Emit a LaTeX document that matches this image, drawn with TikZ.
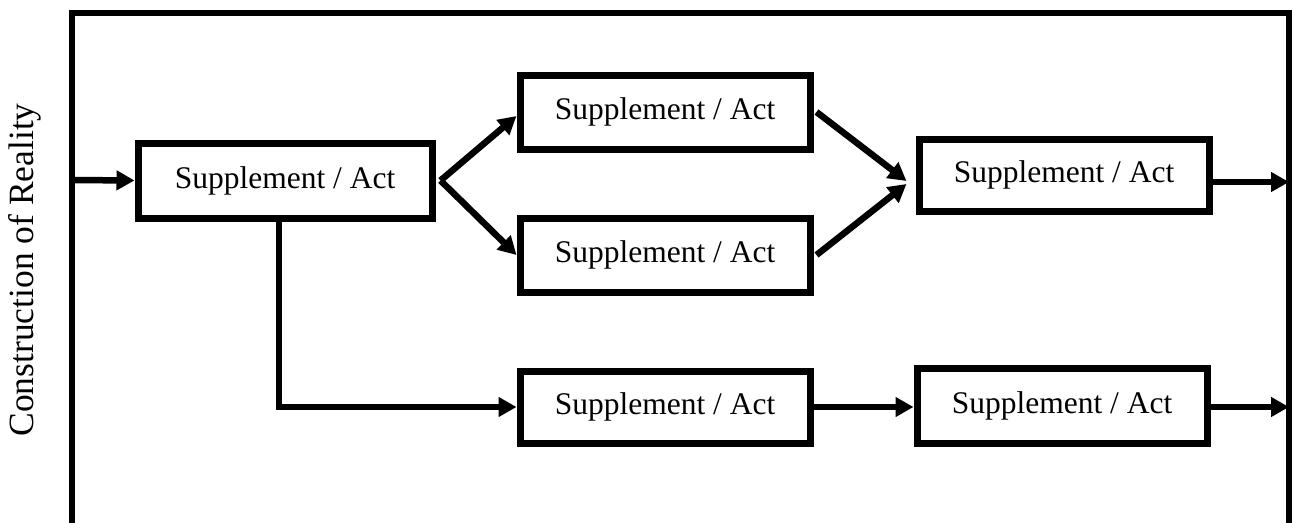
\documentclass[tikz,border=0pt]{standalone}
\usepackage{fontspec}
\setmainfont{Liberation Serif}
\usetikzlibrary{arrows.meta}
\begin{document}
\begin{tikzpicture}[x=1pt,y=-1pt,
  actbox/.style={draw,line width=7pt,inner sep=0pt,minimum height=74pt,
    minimum width=290pt,font=\fontsize{31.5}{36}\selectfont},
  flow/.style={line width=6.5pt,-{Triangle[length=18pt,width=19pt]}},
  frameline/.style={line width=6.5pt}]
  \useasboundingbox (0,0) rectangle (1292,522);

  % open frame around the process
  \draw[frameline] (72,560) -- (72,13) -- (1289,13) -- (1289,560);

  % side label
  \node[rotate=90,font=\fontsize{35.5}{40}\selectfont] (lbl) at (25,270) {Construction of Reality};

  % activity boxes
  \node[actbox,minimum width=294pt,minimum height=75pt] (b1) at (285,180.5) {Supplement / Act};
  \node[actbox] (b2) at (665,112) {Supplement / Act};
  \node[actbox] (b3) at (665,255) {Supplement / Act};
  \node[actbox,minimum height=72pt] (b4) at (1064,175) {Supplement / Act};
  \node[actbox,minimum height=72pt] (b5) at (665,407) {Supplement / Act};
  \node[actbox,minimum height=75pt] (b6) at (1062,405.5) {Supplement / Act};

  % entry and exit points on the frame
  \coordinate (in) at (72,180);
  \coordinate (out1) at (1289,182);
  \coordinate (out2) at (1289,407);

  % connectors
  \draw[flow] (in) -- (b1.west);
  \draw[flow] ([xshift=5pt]b1.east) -- ([yshift=-4pt]b2.west);
  \draw[flow] ([xshift=5pt]b1.east) -- (b3.west);
  \draw[flow] ([xshift=3pt]b2.east) -- ([xshift=-9pt,yshift=-6pt]b4.west);
  \draw[flow] ([xshift=3pt]b3.east) -- ([xshift=-9pt,yshift=-9pt]b4.west);
  \draw[flow] (b4.east |- out1) -- (out1);
  \draw[flow] ([xshift=-6pt]b1.south) |- (b5.west);
  \draw[flow] (b5.east) -- (b6.west |- b5.east);
  \draw[flow] (b6.east |- out2) -- (out2);
\end{tikzpicture}
\end{document}
